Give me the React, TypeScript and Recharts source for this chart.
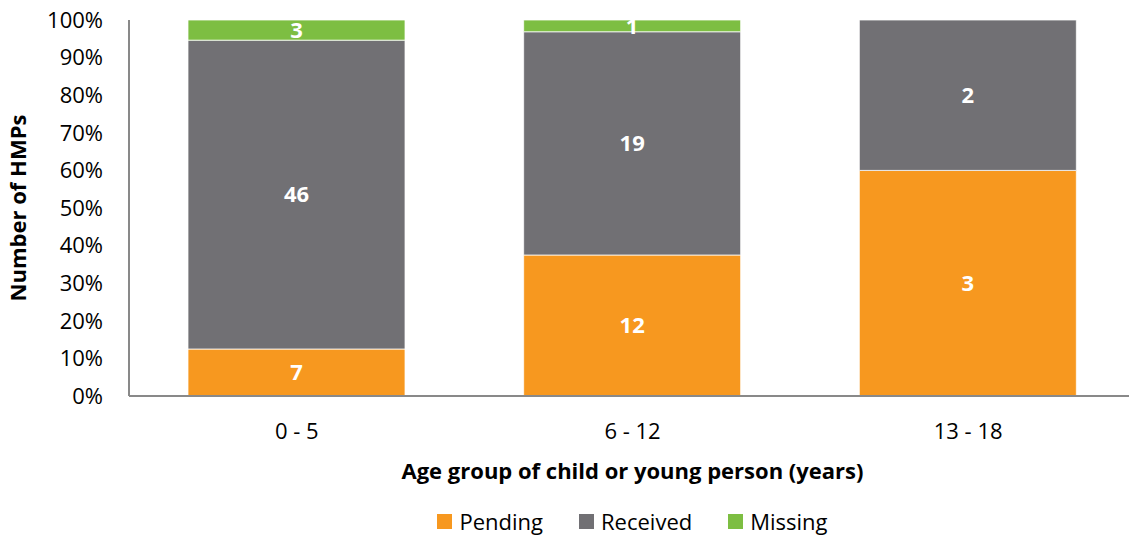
import React from 'react';
import { BarChart, Bar, XAxis, YAxis, Legend, LabelList, Label } from 'recharts';

const AGE_GROUPS = ['0 - 5', '6 - 12', '13 - 18'];
const PENDING = [7, 12, 3];
const RECEIVED = [46, 19, 2];
const MISSING = [3, 1, 0];
const PERCENT_TICKS = [0, 0.1, 0.2, 0.3, 0.4, 0.5, 0.6, 0.7, 0.8, 0.9, 1];

const SERIES = [
  { key: 'pending', name: 'Pending', color: '#F7981F' },
  { key: 'received', name: 'Received', color: '#717074' },
  { key: 'missing', name: 'Missing', color: '#7DBE42' },
];

const data = AGE_GROUPS.map((group, i) => ({
  group,
  pending: PENDING[i],
  received: RECEIVED[i],
  missing: MISSING[i],
}));

const FONT = '"Open Sans", sans-serif';
const FONT_SIZE = 22;
const Y_AXIS_WIDTH = 129;

// legend is centred under the plot area, not the whole chart
const LegendContent = () => (
  <div style={{ display: 'flex', justifyContent: 'center', alignItems: 'center', height: 32, paddingLeft: Y_AXIS_WIDTH, fontFamily: FONT, fontSize: FONT_SIZE, color: '#000' }}>
    {SERIES.map((s) => (
      <div key={s.key} style={{ display: 'flex', alignItems: 'center', margin: '0 18px' }}>
        <span style={{ width: 15, height: 15, background: s.color, display: 'inline-block', marginRight: 7 }} />
        <span>{s.name}</span>
      </div>
    ))}
  </div>
);

const hideZero = (v: any) => (v ? v : '');

const App: React.FC = () => {
  return (
    <div style={{ position: 'fixed', left: 0, top: 0, width: 1129, height: 539, overflow: 'hidden', background: '#fff' }}>
      <BarChart
        width={1136}
        height={539}
        data={data}
        stackOffset="expand"
        barSize={217}
        margin={{ top: 20, right: 0, left: 0, bottom: 2 }}
      >
        <XAxis
          dataKey="group"
          axisLine={{ stroke: '#898989', strokeWidth: 2 }}
          tickLine={false}
          tickMargin={21}
          height={109}
          tick={{ fontFamily: FONT, fontSize: FONT_SIZE, fill: '#000' }}
        >
          <Label
            value="Age group of child or young person (years)"
            position="insideBottom"
            offset={26}
            style={{ fontFamily: FONT, fontSize: FONT_SIZE, fontWeight: 700, fill: '#000' }}
          />
        </XAxis>
        <YAxis
          width={Y_AXIS_WIDTH}
          domain={[0, 1]}
          ticks={PERCENT_TICKS}
          interval={0}
          tickFormatter={(v: number) => `${Math.round(v * 100)}%`}
          axisLine={{ stroke: '#898989', strokeWidth: 2 }}
          tickLine={false}
          tickMargin={20}
          tick={{ fontFamily: FONT, fontSize: FONT_SIZE, fill: '#000' }}
        >
          <Label
            value="Number of HMPs"
            angle={-90}
            position="insideLeft"
            offset={18}
            style={{ fontFamily: FONT, fontSize: FONT_SIZE, fontWeight: 700, fill: '#000', textAnchor: 'middle' }}
          />
        </YAxis>
        <Legend verticalAlign="bottom" content={<LegendContent />} />
        {SERIES.map((s) => (
          <Bar
            key={s.key}
            dataKey={s.key}
            name={s.name}
            stackId="a"
            fill={s.color}
            stroke="#ffffff"
            strokeWidth={0.75}
            isAnimationActive={false}
          >
            <LabelList
              dataKey={s.key}
              position="center"
              formatter={hideZero}
              style={{ fontFamily: FONT, fontSize: FONT_SIZE, fontWeight: 700, fill: '#ffffff' }}
            />
          </Bar>
        ))}
      </BarChart>
    </div>
  );
};

export default App;
